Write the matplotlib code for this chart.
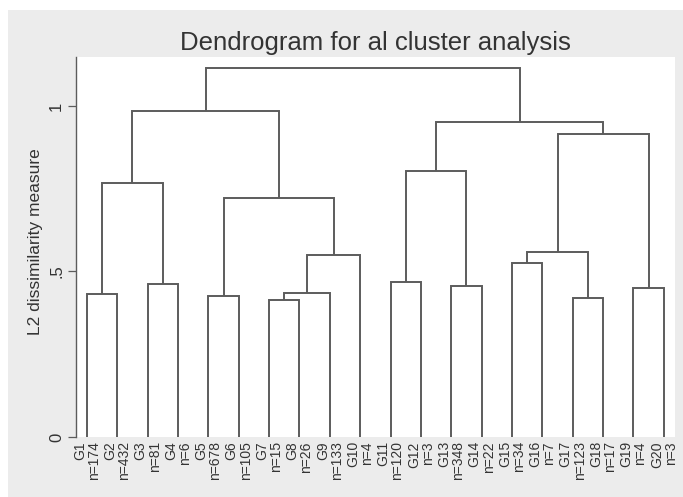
import matplotlib
matplotlib.use("Agg")
import matplotlib.pyplot as plt
from matplotlib.patches import Rectangle

# leaves in plotted order
groups = [f"G{i}" for i in range(1, 21)]
counts = [174, 432, 81, 6, 678, 105, 15, 26, 133, 4,
          120, 3, 348, 22, 34, 7, 123, 17, 4, 3]

# merges: (left node, right node, height); leaves are 0..19, new nodes 20, 21, ...
merge_left = [0, 2, 4, 6, 23, 24, 22, 20, 27, 10, 12, 14, 16, 18, 31, 34, 29, 36, 28]
merge_right = [1, 3, 5, 7, 8, 9, 25, 21, 26, 11, 13, 15, 17, 19, 32, 33, 30, 35, 37]
merge_height = [0.431, 0.463, 0.427, 0.415, 0.434, 0.549, 0.723, 0.766, 0.986,
                0.468, 0.455, 0.525, 0.419, 0.451, 0.560, 0.914, 0.805, 0.951, 1.114]

bg = "#ececec"
line_col = "#5c5c5c"
text_col = "#333333"
plt.rcParams["font.family"] = ["Liberation Sans", "DejaVu Sans"]

fig = plt.figure(figsize=(6.83, 4.97), dpi=100, facecolor=bg)
# white edge strips seen at top and left of the original
fig.patches.append(Rectangle((0, 1 - 10 / 497), 1, 10 / 497, transform=fig.transFigure,
                             facecolor="white", edgecolor="none", zorder=-1))
fig.patches.append(Rectangle((0, 0), 8 / 683, 1, transform=fig.transFigure,
                             facecolor="white", edgecolor="none", zorder=-1))

ax = fig.add_axes([76 / 683, 1 - 437 / 497, 599 / 683, 380 / 497])
ax.set_facecolor("white")

# node positions: leaves at 1..20, inner nodes at midpoints
xpos = {i: i + 1.0 for i in range(len(groups))}
ypos = {i: 0.0 for i in range(len(groups))}
for k, (a, b, h) in enumerate(zip(merge_left, merge_right, merge_height)):
    node = len(groups) + k
    ax.plot([xpos[a], xpos[a], xpos[b], xpos[b]], [ypos[a], h, h, ypos[b]],
            color=line_col, lw=1.4, solid_capstyle="butt", solid_joinstyle="miter")
    xpos[node] = (xpos[a] + xpos[b]) / 2
    ypos[node] = h

ax.set_xlim(0.64, 20.37)
ax.set_ylim(0, 1.148)

ax.set_xticks(range(1, 21))
ax.set_xticklabels([f"{g}\nn={n}" for g, n in zip(groups, counts)],
                   rotation=90, ha="center", va="top", fontsize=10, color=text_col,
                   linespacing=1.0)
for t in ax.get_xticklabels():
    t.set_multialignment("right")
ax.tick_params(axis="x", length=0, pad=3)

ax.set_yticks([0, 0.5, 1])
ax.set_yticklabels(["0", ".5", "1"], rotation=90, va="center", fontsize=12, color=text_col)
ax.tick_params(axis="y", length=5.5, width=0.9, color=line_col, pad=3)

for s in ["top", "right", "bottom"]:
    ax.spines[s].set_visible(False)
ax.spines["left"].set_color(line_col)
ax.spines["left"].set_linewidth(1.0)

ax.set_ylabel("L2 dissimilarity measure", fontsize=12.5, color=text_col)
ax.yaxis.set_label_coords(-0.055, 0.515)
ax.set_title("Dendrogram for al cluster analysis", fontsize=18.5, color=text_col, pad=5)

fig.savefig("out.png", dpi=100, facecolor=bg)
